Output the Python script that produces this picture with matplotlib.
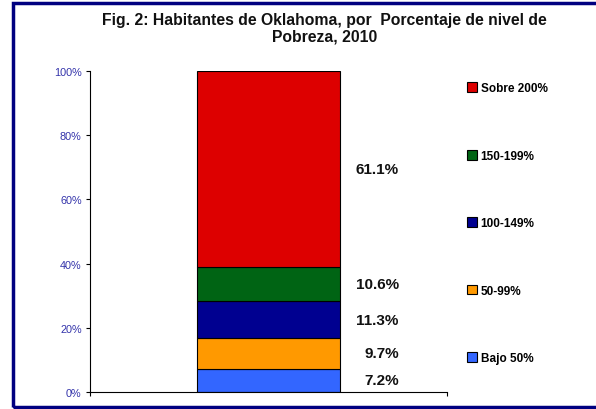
import matplotlib
matplotlib.use("Agg")
import matplotlib.pyplot as plt
from matplotlib.patches import Rectangle, Patch

plt.rcParams["font.family"] = ["Liberation Sans", "DejaVu Sans"]

# Data
categories = ["Bajo 50%", "50-99%", "100-149%", "150-199%", "Sobre 200%"]
values = [7.2, 9.7, 11.3, 10.6, 61.1]
colors = ["#3366ff", "#ff9900", "#000090", "#006414", "#dd0000"]
value_labels = ["7.2%", "9.7%", "11.3%", "10.6%", "61.1%"]
y_ticks = [0, 20, 40, 60, 80, 100]
y_ticklabels = ["0%", "20%", "40%", "60%", "80%", "100%"]

fig = plt.figure(figsize=(5.96, 4.10), dpi=100)
ax = fig.add_axes([0.151, 0.0415, 0.599, 0.7829])

bottom = 0
for cat, v, c, lab in zip(categories, values, colors, value_labels):
    ax.bar(0, v, width=0.4, bottom=bottom, color=c, edgecolor="black", linewidth=0.8, label=cat)
    ax.text(0.365, bottom + v / 2, lab, ha="right", va="center",
            fontsize=11, fontweight="bold", color="#111111")
    bottom += v

ax.set_xlim(-0.5, 0.5)
ax.set_ylim(0, 100)
ax.set_yticks(y_ticks)
ax.set_yticklabels(y_ticklabels, color="#3333aa", fontsize=7.8)
ax.set_xticks([-0.5, 0.5])
ax.set_xticklabels(["", ""])
ax.tick_params(axis="y", length=3, width=0.8, pad=3)
ax.tick_params(axis="x", length=3, width=0.8)
for s in ["top", "right"]:
    ax.spines[s].set_visible(False)
for s in ["left", "bottom"]:
    ax.spines[s].set_linewidth(0.8)

# Legend, top entry first
handles = [Patch(facecolor=c, edgecolor="black", linewidth=0.8) for c in colors][::-1]
leg = fig.legend(handles, categories[::-1], loc="upper left", bbox_to_anchor=(0.765, 0.823),
                 frameon=False, handlelength=0.9, handleheight=0.9, handletextpad=0.3,
                 labelspacing=4.7, prop={"weight": "bold", "size": 8.5})

fig.suptitle("Fig. 2: Habitantes de Oklahoma, por  Porcentaje de nivel de\nPobreza, 2010",
             x=0.544, y=0.968, va="top", fontsize=11.3, fontweight="bold", color="#111111",
             linespacing=1.1)

# navy frame
frame = Rectangle((13 / 596, 2 / 410), 1.0, 404 / 410, transform=fig.transFigure,
                  fill=False, edgecolor="#000080", linewidth=2.5, clip_on=False)
fig.patches.append(frame)

fig.savefig("out.png", dpi=100)
